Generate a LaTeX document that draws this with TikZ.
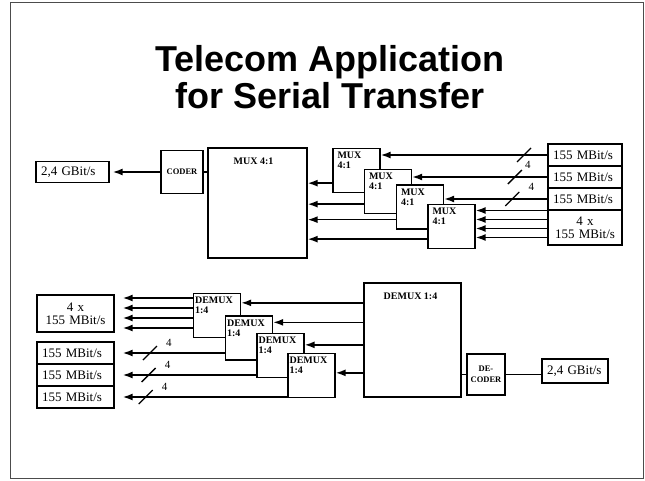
\documentclass[tikz,border=0pt]{standalone}
\usepackage{fontspec}
\setmainfont{Liberation Serif}
\newfontfamily\titlefont{Liberation Sans}
\usetikzlibrary{arrows.meta}

\begin{document}
\begin{tikzpicture}[x=1pt,y=-1pt,font=\fontsize{13}{13}\selectfont,
    blk/.style={draw,fill=white,line width=1.3pt,inner sep=1pt},
    rate/.style={blk,align=left,inner xsep=5pt,text width=#1,minimum height=22pt},
    unit/.style={blk,minimum width=47pt,minimum height=44pt},
    unittxt/.style={anchor=north west,align=left,inner xsep=5pt,inner ysep=4pt,
      font=\fontsize{10}{10}\selectfont\bfseries},
    bigtxt/.style={anchor=north,inner sep=2pt,font=\fontsize{10}{10}\selectfont\bfseries},
    ctl/.style={blk,align=center,font=\fontsize{8.5}{11}\selectfont\bfseries},
    headline/.style={anchor=base,font=\titlefont\bfseries\fontsize{36}{37}\selectfont},
    sig/.style={line width=1.6pt,-{Latex[length=10pt,width=7pt]}},
    wire/.style={line width=1.6pt},
    busmark/.style={line width=1.3pt},
    tagnum/.style={font=\fontsize{11}{11}\selectfont,inner sep=1pt}]
  \useasboundingbox (0,0) rectangle (645,480);
  \draw[line width=1pt,black!70] (10,2) rectangle (643,478);

  % title
  \node[headline] (ttlA) at (330,71) {Telecom Application};
  \node[headline] (ttlB) at (330,108) {for Serial Transfer};

  % transmit side
  \node[rate=63pt,minimum height=21pt] (txrate) at (72.5,172) {2,4 GBit/s};
  \node[ctl,minimum width=42pt,minimum height=43pt] (coder) at (182,172) {CODER};
  \node[blk,minimum width=99pt,minimum height=110pt,
    label={[bigtxt,xshift=-4pt,yshift=-8pt]north:MUX 4:1}] (mux) at (257.5,203) {};
  \node[unit,label={[unittxt]north west:{MUX\\4:1}}] (muxA) at (356.5,170.5) {};
  \node[unit,label={[unittxt]north west:{MUX\\4:1}}] (muxB) at (388,191.5) {};
  \node[unit,label={[unittxt]north west:{MUX\\4:1}}] (muxC) at (420,207) {};
  \node[unit,label={[unittxt]north west:{MUX\\4:1}}] (muxD) at (451.5,226.5) {};
  \node[rate=64pt] (inA) at (585,155) {155 MBit/s};
  \node[rate=64pt] (inB) at (585,177) {155 MBit/s};
  \node[rate=64pt] (inC) at (585,199) {155 MBit/s};
  \node[rate=64pt,minimum height=35pt,align=center] (inD) at (585,227.5) {4 x\\155 MBit/s};

  \draw[sig,shorten >=3pt] (coder) -- (txrate);
  \draw[wire] (coder.east) -- (coder.east -| mux.west);
  \foreach \m in {muxA,muxB,muxC,muxD}
    \draw[sig] ([yshift=10pt]\m.south west) -- ([yshift=10pt]\m.south west -| mux.east);
  \draw[sig] (inA.west) -- coordinate[pos=0.14] (slA) (inA.west -| muxA.east);
  \draw[sig] (inB.west) -- coordinate[pos=0.24] (slB) (inB.west -| muxB.east);
  \draw[sig] (inC.west) -- coordinate[pos=0.34] (slC) (inC.west -| muxC.east);
  \foreach \d in {17,8,-1,-10}
    \draw[sig] ([yshift=\d pt]inD.west) -- ([yshift=\d pt]inD.west -| muxD.east);
  \foreach \s in {slA,slB,slC}
    \draw[busmark] (\s) ++(-7,7) -- ++(14,-14);
  \node[tagnum] (nslB) at ([shift={(13,-12)}]slB) {4};
  \node[tagnum] (nslC) at ([shift={(19,-12)}]slC) {4};

  % receive side
  \node[blk,minimum width=97pt,minimum height=114pt,
    label={[bigtxt,xshift=-2pt,yshift=-8pt]north:DEMUX 1:4}] (dmx) at (412.5,340) {};
  \node[ctl,minimum width=38pt,minimum height=41pt] (dec) at (486,374.5) {DE-\\CODER};
  \node[rate=56pt,minimum height=24pt] (rxrate) at (575,371) {2,4 GBit/s};
  \node[unit,label={[unittxt,inner xsep=2pt]north west:{DEMUX\\1:4}}] (dmxA) at (217,315.5) {};
  \node[unit,label={[unittxt,inner xsep=2pt]north west:{DEMUX\\1:4}}] (dmxB) at (249,338) {};
  \node[unit,label={[unittxt,inner xsep=2pt]north west:{DEMUX\\1:4}}] (dmxC) at (280.5,355.5) {};
  \node[unit,label={[unittxt,inner xsep=2pt]north west:{DEMUX\\1:4}}] (dmxD) at (311.5,375.5) {};
  \node[rate=67pt,minimum height=37pt,align=center] (outD) at (75.5,313.5) {4 x\\155 MBit/s};
  \node[rate=67pt] (outA) at (75.5,353) {155 MBit/s};
  \node[rate=67pt] (outB) at (75.5,375) {155 MBit/s};
  \node[rate=67pt] (outC) at (75.5,397) {155 MBit/s};

  \foreach \b/\d in {dmxA/10,dmxB/7,dmxC/12,dmxD/20}
    \draw[sig] ([yshift=-\d pt]\b.north east -| dmx.west) -- ([yshift=-\d pt]\b.north east);
  \draw[wire] (dec.west -| dmx.east) -- (dec.west);
  \draw[wire] (dec.east) -- (dec.east -| rxrate.west);
  \foreach \d in {15.5,5.5,-4.5,-14.5}
    \draw[sig,shorten >=8pt] ([yshift=\d pt]outD.east -| dmxA.west) -- ([yshift=\d pt]outD.east);
  \draw[sig,shorten >=8pt] (outA.east -| dmxB.west) -- coordinate[pos=0.68] (slD) (outA.east);
  \draw[sig,shorten >=8pt] (outB.east -| dmxC.west) -- coordinate[pos=0.76] (slE) (outB.east);
  \draw[sig,shorten >=8pt] (outC.east -| dmxD.west) -- coordinate[pos=0.82] (slF) (outC.east);
  \foreach \s in {slD,slE,slF}{
    \draw[busmark] (\s) ++(-7,7) -- ++(14,-14);
    \node[tagnum] (n\s) at ([shift={(19,-10)}]\s) {4};
  }
\end{tikzpicture}
\end{document}
